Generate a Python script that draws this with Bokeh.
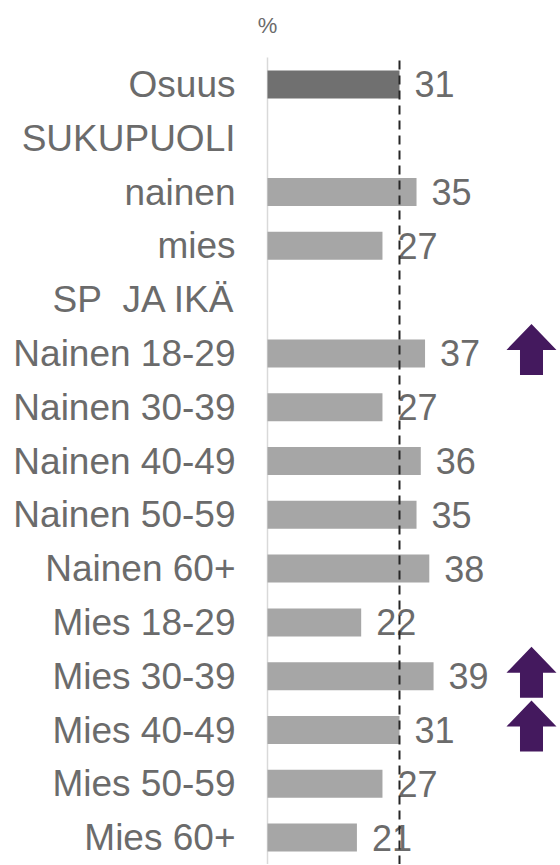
from bokeh.plotting import figure
from bokeh.models import Range1d, FixedTicker, ColumnDataSource
from bokeh.core.properties import value
from bokeh.embed import file_html
from bokeh.resources import INLINE

labels = ["Osuus", "SUKUPUOLI", "nainen", "mies", "SP\u00a0 JA IKÄ",
          "Nainen 18-29", "Nainen 30-39", "Nainen 40-49", "Nainen 50-59", "Nainen 60+",
          "Mies 18-29", "Mies 30-39", "Mies 40-49", "Mies 50-59", "Mies 60+"]
values = [31, None, 35, 27, None, 37, 27, 36, 35, 38, 22, 39, 31, 27, 21]
is_total = [True] + [False] * 14
arrow_up = [False, False, False, False, False, True, False, False, False, False,
            False, True, True, False, False]
average = 31
unit_label = "%"

FONT = "Liberation Sans"
TXT = "#6B6B6B"
n = len(labels)

W, H = 558, 864
LEFT = 245            # frame left edge (px)
ZERO = 267            # where value 0 sits (px)
TOP = 57              # top of the bar area (px)
X_PX = 4.258          # px per value unit
row_px = (H - TOP) / n
px_x = 1 / X_PX
px_y = 1 / row_px

x_start = -(ZERO - LEFT) * px_x
x_end = (W - ZERO) * px_x
y_lo, y_hi = -0.5, n - 0.5
p = figure(width=W, height=H, output_backend="svg", toolbar_location=None,
           x_range=Range1d(x_start, x_end), y_range=Range1d(y_lo, y_hi + TOP * px_y),
           min_border_left=LEFT, min_border_top=0, min_border_right=0, min_border_bottom=0)
p.outline_line_color = None
p.grid.visible = False
p.xaxis.visible = False
p.background_fill_color = "white"
p.border_fill_color = "white"

ys = [n - 1 - i for i in range(n)]
bx, by, bc = [], [], []
for i, v in enumerate(values):
    if v is not None:
        bx.append(v)
        by.append(ys[i])
        bc.append("#707070" if is_total[i] else "#A6A6A6")
src = ColumnDataSource(dict(x=bx, y=by, c=bc, t=[str(v) for v in bx]))

# baseline axis line
p.segment(x0=[0], x1=[0], y0=[y_lo], y1=[y_hi], line_color="#D9D9D9", line_width=1.5)

p.hbar(y="y", right="x", left=0, height=0.52, fill_color="c", line_color=None, source=src)
p.text(x="x", y="y", text="t", source=src, x_offset=15, text_align="left", text_baseline="middle",
       text_font=value(FONT), text_font_size="36px", text_color=TXT)

# average line
p.segment(x0=[average], x1=[average], y0=[y_lo], y1=[y_hi], line_color="#262626",
          line_width=2, line_dash="9 6")

# arrows
xs_a, ys_a = [], []
cx = 62.0
for i, a in enumerate(arrow_up):
    if not a:
        continue
    cy = ys[i] + 4 * px_y
    hw, sw = 25 * px_x, 11.5 * px_x
    top, mid, bot = cy + 25.5 * px_y, cy - 0.5 * px_y, cy - 25.5 * px_y
    xs_a.append([cx, cx + hw, cx + sw, cx + sw, cx - sw, cx - sw, cx - hw])
    ys_a.append([top, mid, mid, bot, bot, mid, mid])
p.patches(xs_a, ys_a, fill_color="#44195E", line_color=None)

# unit label above the axis
p.text(x=[0], y=[y_hi], text=[unit_label], y_offset=-32, text_align="center",
       text_baseline="middle", text_font=value(FONT), text_font_size="22px", text_color=TXT)

ax = p.yaxis[0]
ax.ticker = FixedTicker(ticks=ys)
ax.major_label_overrides = {ys[i]: labels[i] for i in range(n)}
ax.major_label_text_font = FONT
ax.major_label_text_font_size = "37px"
ax.major_label_text_color = TXT
ax.major_tick_line_color = None
ax.minor_tick_line_color = None
ax.major_label_standoff = 26 - (ZERO - LEFT)
ax.axis_line_color = None

open("out.html", "w").write(file_html(p, INLINE))
